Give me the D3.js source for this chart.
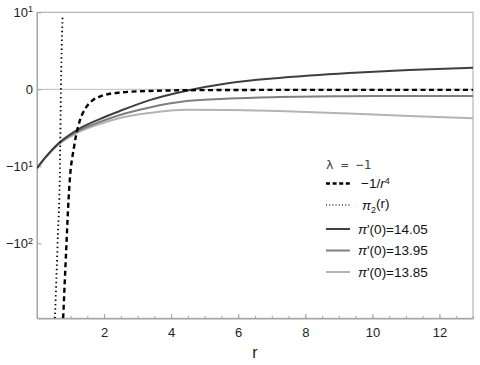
<!DOCTYPE html>
<html>
<head>
<meta charset="utf-8">
<script src="https://cdn.jsdelivr.net/npm/d3@7"></script>
<style>
  body { margin: 0; background: #fff; }
  svg { display: block; font-family: "Liberation Sans", Arial, sans-serif; }
</style>
</head>
<body>
<div id="chart"></div>
<script>
// values (r, value)
const rDashed   = [0.78, 0.83, 0.88, 0.94, 1.0, 1.05, 1.1, 1.16, 1.23, 1.34, 1.43, 1.63, 1.92, 2.47, 3.36, 4.85, 7.82, 13];
const vDashed   = [-858, -287, -97, -28.1, -11.5, -7.6, -5.4, -3.5, -2.31, -1.35, -0.95, -0.5, -0.26, -0.12, -0.06, -0.03, -0.02, -0.02];

const rDotted   = [0.535, 0.575, 0.615, 0.684, 0.713, 0.728, 0.764];
const vDotted   = [-858, -300, -97, -10.6, 0, 1.63, 8.7];

const rSolid    = [0, 0.24, 0.62, 1.19, 1.87, 2.47, 3.36, 4.46, 5.74, 7.22, 9.30, 11.09, 13];
const v1405     = [-10.6, -7.6, -4.7, -2.74, -1.67, -1.07, -0.45, -0.05, 0.25, 0.48, 0.74, 0.92, 1.06];
const v1395     = [-10.6, -7.6, -4.79, -2.92, -1.93, -1.35, -0.85, -0.50, -0.375, -0.31, -0.27, -0.26, -0.26];
const v1385     = [-10.6, -7.6, -4.87, -3.10, -2.12, -1.58, -1.2, -0.99, -1.0, -1.07, -1.25, -1.43, -1.61];

const xTicks = [2, 4, 6, 8, 10, 12];
const xMinor = d3.range(0.5, 13.01, 0.5);
const yTicks = [10, 0, -10, -100];
const yTickLabels = [['10', '1'], ['0', ''], ['\u221210', '1'], ['\u221210', '2']];

const W = 480, H = 365;
const pLeft = 37, pRight = 473, pTop = 12.3, pBottom = 318.3;

const svg = d3.select('#chart').append('svg')
    .attr('width', W)
    .attr('height', H);

const x = d3.scaleLinear().domain([0, 13]).range([pLeft, pRight]);
const y = d3.scaleSymlog().constant(1.25).domain([-858, 10]).range([pBottom, pTop]);

svg.append('clipPath').attr('id', 'clip')
    .append('rect')
    .attr('x', pLeft).attr('y', pTop)
    .attr('width', pRight - pLeft).attr('height', pBottom - pTop);

// frame
svg.append('rect')
    .attr('x', pLeft).attr('y', pTop)
    .attr('width', pRight - pLeft).attr('height', pBottom - pTop)
    .attr('fill', 'none')
    .attr('stroke', '#a6a6a6')
    .attr('stroke-width', 1);

// zero line
svg.append('line')
    .attr('x1', pLeft).attr('x2', pRight)
    .attr('y1', y(0)).attr('y2', y(0))
    .attr('stroke', '#bdbdbd')
    .attr('stroke-width', 1);

// axes
const xMinorAxis = svg.append('g')
    .attr('transform', `translate(0,${pBottom})`)
    .call(d3.axisBottom(x).tickValues(xMinor).tickSize(-2.5).tickSizeOuter(0).tickFormat(''));

const xAxis = svg.append('g')
    .attr('transform', `translate(0,${pBottom})`)
    .call(d3.axisBottom(x).tickValues(xTicks).tickSize(-4.5).tickSizeOuter(0).tickPadding(9).tickFormat(d3.format('d')));

const yAxis = svg.append('g')
    .attr('transform', `translate(${pLeft},0)`)
    .call(d3.axisLeft(y).tickValues(yTicks).tickSize(-4.5).tickSizeOuter(0).tickPadding(4));

[xMinorAxis, xAxis, yAxis].forEach(g => {
    g.select('.domain').attr('stroke', '#a6a6a6');
    g.selectAll('.tick line').attr('stroke', '#a6a6a6');
    g.selectAll('text')
        .attr('fill', '#222')
        .style('font-size', '13px')
        .style('font-family', '"Liberation Sans", Arial, sans-serif');
});

yAxis.selectAll('.tick text').each(function(d, i) {
    const t = d3.select(this).text('');
    const lab = yTickLabels[i];
    t.append('tspan').text(lab[0]);
    if (lab[1]) {
        t.append('tspan')
            .attr('dy', '-0.5em')
            .style('font-size', '9px')
            .text(lab[1]);
    }
});

svg.append('text')
    .attr('x', (pLeft + pRight) / 2)
    .attr('y', 358)
    .attr('text-anchor', 'middle')
    .attr('fill', '#222')
    .style('font-size', '16px')
    .text('r');

// curves
const line = d3.line()
    .x(d => x(d[0]))
    .y(d => y(d[1]))
    .curve(d3.curveMonotoneX);

const plot = svg.append('g').attr('clip-path', 'url(#clip)');

const series = [
    {r: rSolid, v: v1385, color: '#b4b4b4', width: 2, dash: null},
    {r: rSolid, v: v1395, color: '#7f7f7f', width: 2, dash: null},
    {r: rSolid, v: v1405, color: '#3f3f3f', width: 2, dash: null},
    {r: rDotted, v: vDotted, color: '#000', width: 1.8, dash: '1.4,3'},
    {r: rDashed, v: vDashed, color: '#000', width: 2.4, dash: '5,3.5'}
];

series.forEach(s => {
    plot.append('path')
        .datum(s.r.map((r, i) => [r, s.v[i]]))
        .attr('d', line)
        .attr('fill', 'none')
        .attr('stroke', s.color)
        .attr('stroke-width', s.width)
        .attr('stroke-dasharray', s.dash);
});

// legend
const legend = svg.append('g');

legend.append('text')
    .attr('x', 326)
    .attr('y', 169)
    .attr('fill', '#444')
    .style('font-family', '"DejaVu Sans Mono", monospace')
    .style('font-size', '12.5px')
    .attr('xml:space', 'preserve')
    .text('\u03bb = \u22121');

const items = [
    {y: 183.5, color: '#000', width: 2.4, dash: '4,2.6', label: 'dashed'},
    {y: 205, color: '#333', width: 1.3, dash: '1,2.2', label: 'dotted'},
    {y: 229, color: '#3f3f3f', width: 2, dash: null, label: '14.05'},
    {y: 250.5, color: '#7f7f7f', width: 2, dash: null, label: '13.95'},
    {y: 272, color: '#b4b4b4', width: 2, dash: null, label: '13.85'}
];

items.forEach(it => {
    legend.append('line')
        .attr('x1', 326).attr('x2', 350)
        .attr('y1', it.y).attr('y2', it.y)
        .attr('stroke', it.color)
        .attr('stroke-width', it.width)
        .attr('stroke-dasharray', it.dash);

    const t = legend.append('text')
        .attr('y', it.y + 4.5)
        .attr('fill', '#111')
        .style('font-size', '13.5px');

    if (it.label === 'dashed') {
        t.attr('x', 361);
        t.append('tspan').text('\u22121/');
        t.append('tspan').style('font-style', 'italic').text('r');
        t.append('tspan').attr('dy', '-0.5em').style('font-size', '9px').text('4');
    } else if (it.label === 'dotted') {
        t.attr('x', 362);
        t.append('tspan').style('font-style', 'italic').text('\u03c0');
        t.append('tspan').attr('dy', '0.35em').style('font-size', '9px').text('2');
        t.append('tspan').attr('dy', '-0.35em').text('(r)');
    } else {
        t.attr('x', 358);
        t.append('tspan').style('font-style', 'italic').text('\u03c0');
        t.append('tspan').text("'(0)=" + it.label);
    }
});
</script>
</body>
</html>
